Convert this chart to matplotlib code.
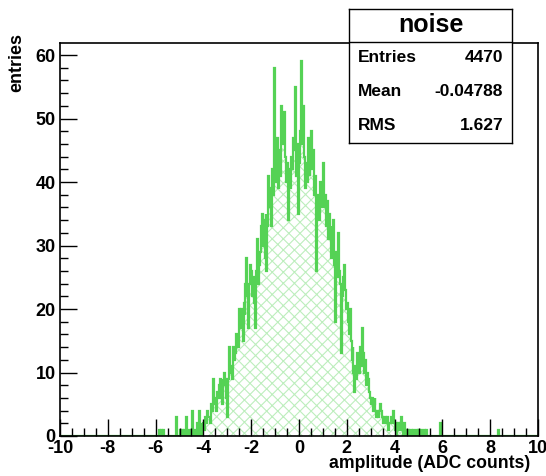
import numpy as np
import matplotlib
matplotlib.use('Agg')
import matplotlib.pyplot as plt
from matplotlib.ticker import MultipleLocator

plt.rcParams['font.family'] = ['Liberation Sans', 'DejaVu Sans']
plt.rcParams['font.weight'] = 'bold'
plt.rcParams['hatch.linewidth'] = 0.8

# histogram: 500 bins from -10 to 10 (bin width 0.04)
x_min, x_max, n_bins = -10.0, 10.0, 500

# counts, one row per unit, starting at x = -6
rows = [
    [0, 0, 0, 0, 1, 0, 1, 0, 1, 0, 0, 0, 0, 0, 0, 0, 0, 0, 0, 0, 0, 3, 0, 0, 0],          # -6
    [0, 1, 0, 1, 0, 1, 0, 3, 0, 1, 0, 0, 1, 4, 0, 0, 1, 0, 2, 0, 4, 1, 2, 0, 1],          # -5
    [2, 1, 3, 2, 4, 3, 3, 2, 5, 4, 9, 6, 5, 4, 7, 6, 8, 9, 6, 5, 9, 8, 10, 9, 6],         # -4
    [3, 9, 14, 10, 11, 9, 14, 12, 13, 16, 15, 14, 20, 17, 20, 18, 15, 21, 19, 24,
     28, 22, 17, 24, 27],                                                                  # -3
    [26, 22, 25, 21, 17, 26, 31, 24, 27, 29, 33, 35, 30, 34, 28, 35, 26, 33, 41, 36,
     39, 33, 42, 38, 58],                                                                  # -2
    [44, 40, 47, 39, 45, 41, 52, 46, 50, 51, 44, 40, 43, 38, 34, 42, 39, 44, 42, 47,
     45, 55, 41, 46, 35],                                                                  # -1
    [43, 48, 59, 46, 52, 44, 39, 43, 40, 47, 44, 41, 46, 48, 42, 45, 38, 41, 26, 35,
     38, 34, 40, 36, 39],                                                                  # 0
    [43, 36, 38, 33, 37, 31, 35, 32, 28, 33, 30, 34, 27, 18, 29, 25, 32, 26, 24, 13,
     22, 25, 27, 23, 20],                                                                  # 1
    [21, 18, 16, 20, 15, 12, 14, 10, 7, 11, 9, 13, 12, 10, 14, 11, 17, 13, 10, 12,
     8, 10, 9, 7, 6],                                                                      # 2
    [5, 6, 4, 5, 6, 4, 3, 4, 3, 4, 5, 4, 3, 2, 3, 3, 2, 3, 1, 2, 2, 3, 2, 4, 2],          # 3
    [1, 2, 0, 1, 2, 1, 2, 3, 1, 0, 2, 1, 0, 1, 1, 0, 1, 1, 0, 1, 0, 0, 1, 0, 1],          # 4
    [0, 1, 0, 1, 0, 0, 1, 0, 1, 0, 0, 0, 0, 0, 0, 0, 0, 0, 0, 0, 0, 0, 0, 2, 0],          # 5
]
tail_x = [8.32]
tail_n = [1]

stat_labels = ['Entries', 'Mean', 'RMS']
stat_values = ['4470', '-0.04788', '1.627']

edges = np.linspace(x_min, x_max, n_bins + 1)
counts = np.zeros(n_bins)
core = np.concatenate([np.array(r, dtype=float) for r in rows])
start = int(round((-6.0 - x_min) / 0.04))
counts[start:start + len(core)] = core
for tx, tn in zip(tail_x, tail_n):
    counts[int((tx - x_min) / 0.04)] += tn

green = '#55d255'
hatch_green = '#bdeebd'

fig = plt.figure(figsize=(5.46, 4.76), dpi=100)
ax = fig.add_axes([60 / 546, 40 / 476, 478 / 546, 393 / 476])

ax.stairs(counts, edges, fill=True, facecolor='none', edgecolor=hatch_green,
          hatch='xxx', linewidth=0)
ax.stairs(counts, edges, color=green, linewidth=1.6)

ax.set_xlim(x_min, x_max)
ax.set_ylim(0, 61.9)
ax.xaxis.set_major_locator(MultipleLocator(2))
ax.xaxis.set_minor_locator(MultipleLocator(0.5))
ax.yaxis.set_major_locator(MultipleLocator(10))
ax.yaxis.set_minor_locator(MultipleLocator(2))
ax.tick_params(which='major', direction='in', length=12, width=1.0)
ax.tick_params(which='minor', direction='in', length=6, width=1.0)
ax.tick_params(axis='x', labelsize=13, pad=3)
ax.tick_params(axis='y', labelsize=13, pad=3)
ax.set_xticks(np.arange(-10, 11, 2))
ax.set_xticklabels([str(v) for v in range(-10, 11, 2)])
for s in ax.spines.values():
    s.set_linewidth(1.2)

fig.text(530 / 546, 1 - 464 / 476, 'amplitude (ADC counts)', ha='right',
         va='center', fontsize=12.7, fontweight='bold')
fig.text(17 / 546, 1 - 33 / 476, 'entries', ha='center', va='top',
         rotation=90, fontsize=13, fontweight='bold')

# stats box
box = fig.add_axes([349 / 546, 1 - 143 / 476, (512 - 349) / 546, (143 - 9) / 476])
box.set_xticks([])
box.set_yticks([])
box.set_xlim(0, 1)
box.set_ylim(0, 1)
for s in box.spines.values():
    s.set_linewidth(1.0)
sep = (143 - 42) / (143 - 9)
box.axhline(sep, color='black', linewidth=1.0)
box.text(0.5, (sep + 1) / 2, 'noise', ha='center', va='center',
         fontsize=18, fontweight='bold')
row_y = [(143 - 58) / 134, (143 - 91) / 134, (143 - 125) / 134]
for lab, val, yy in zip(stat_labels, stat_values, row_y):
    box.text(0.055, yy, lab, ha='left', va='center', fontsize=12.5, fontweight='bold')
    box.text(0.945, yy, val, ha='right', va='center', fontsize=12.5, fontweight='bold')

fig.savefig('out.png', dpi=100)
